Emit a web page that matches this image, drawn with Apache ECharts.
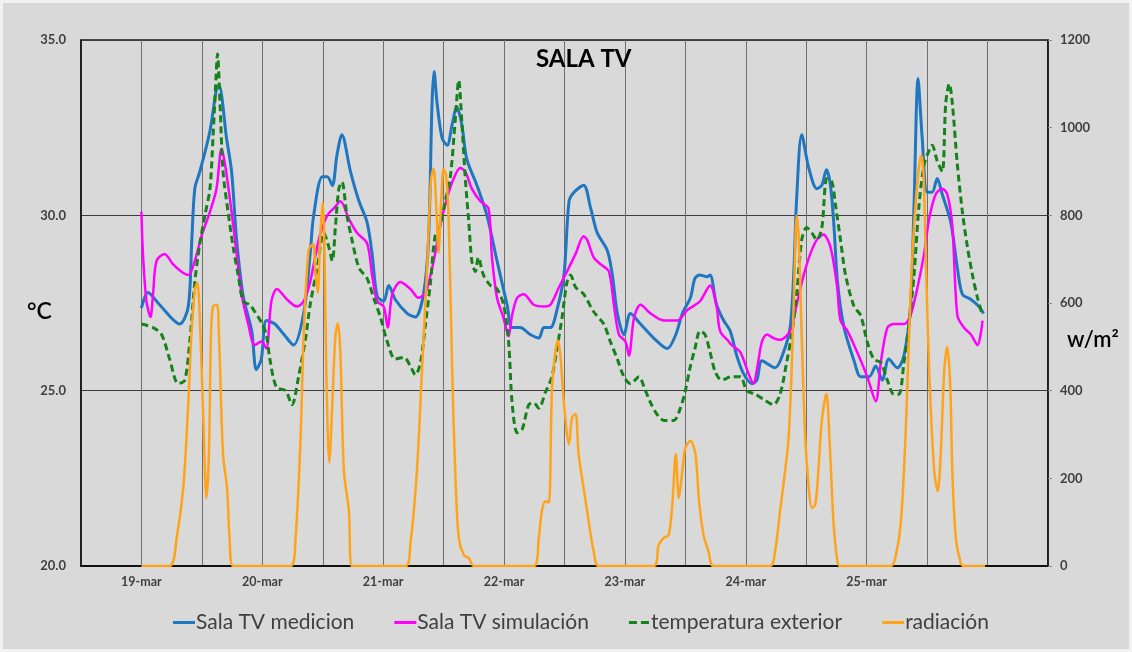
<!DOCTYPE html>
<html>
<head>
<meta charset="utf-8">
<script src="https://cdn.jsdelivr.net/npm/echarts@6/dist/echarts.min.js"></script>
<style>
  html, body { margin: 0; padding: 0; background: #f0f0f0; }
  #chart { width: 1132px; height: 652px; }
</style>
</head>
<body>
<div id="chart"></div>
<script>
// ---- data (hour since 19-mar 00:00, value) ----
const dayLabels = ['19-mar', '20-mar', '21-mar', '22-mar', '23-mar', '24-mar', '25-mar'];
const leftTicks = [20, 25, 30, 35];
const rightTicks = [0, 200, 400, 600, 800, 1000, 1200];

const medicion = [[0,27.36],[1.3,27.8],[3.6,27.45],[7.6,26.9],[9.3,27.4],[10,29.3],[10.6,30.76],[11.6,31.25],[13.6,32.4],[14.9,33.6],[15.4,33.7],[16.9,32.2],[17.9,31.25],[18.9,29.3],[20.2,27.7],[21.9,26.7],[22.8,25.6],[23.8,25.9],[24.8,27.0],[26.5,26.9],[28.3,26.6],[30.2,26.3],[32.2,27.2],[33.5,28.9],[34.2,30.0],[35.9,31.1],[36.9,31.1],[37.9,30.85],[38.8,31.7],[39.8,32.3],[41.5,31.25],[43.2,30.4],[44.8,29.8],[45.8,28.9],[46.8,27.7],[48.1,27.55],[49.1,28.0],[50.4,27.6],[52.8,27.2],[54.4,27.1],[56,27.75],[57,29.3],[57.7,33.2],[58.1,34.1],[58.7,33.2],[59.7,32.2],[60.7,32.0],[61.7,32.6],[62.6,33.1],[63.6,32.6],[64.6,31.6],[66.6,30.86],[68.6,30.0],[70.6,28.7],[72.6,27.45],[73.6,26.8],[75.2,26.8],[77.2,26.6],[78.9,26.5],[79.9,26.8],[81.2,26.8],[82.5,27.3],[83.9,28.3],[84.9,30.4],[85.9,30.66],[87.8,30.86],[89.2,30.2],[90.5,29.5],[92.5,29.0],[93.5,28.3],[94.5,27.2],[95.8,26.6],[97.1,27.2],[99.1,26.9],[101.7,26.5],[104.4,26.2],[106.1,26.6],[107.4,27.2],[109,27.65],[109.9,28.2],[110.9,28.3],[112.3,28.25],[112.9,28.3],[114.2,27.45],[115.6,27.0],[116.9,26.7],[118.2,26.0],[119.5,25.5],[121.2,25.2],[122.2,25.3],[123.2,25.85],[125.8,25.65],[127.5,26.1],[128.8,26.8],[129.5,28.3],[130.1,30.5],[131.1,32.3],[132.5,31.35],[134.1,30.76],[135.1,30.86],[136,31.3],[136.8,30.86],[137.5,29.7],[138.2,28.1],[139.5,26.8],[141.5,25.85],[142.8,25.4],[144.5,25.4],[145.8,25.7],[147.1,25.3],[148.4,25.9],[150.1,25.65],[151.4,26.0],[152.7,27.4],[153.4,30.3],[154.2,33.9],[155,32.25],[156,30.66],[157,30.66],[158,31.05],[159,30.6],[160.7,29.8],[162,28.5],[163,27.75],[164.7,27.6],[166.3,27.4],[167.2,27.2]];

const simulacion = [[0,30.1],[0.3,28.9],[1,27.55],[1.8,27.1],[2.3,27.75],[3,28.7],[4.6,28.9],[6.3,28.6],[7.9,28.4],[9.3,28.3],[10.6,28.7],[11.9,29.4],[13.6,30.1],[14.9,30.76],[15.9,31.9],[16.6,31.45],[17.9,30.1],[18.9,28.9],[19.9,27.75],[21.2,26.9],[22.5,26.3],[23.8,26.4],[24.8,26.2],[25.8,27.55],[26.9,27.9],[28.9,27.6],[30.9,27.4],[32.2,27.55],[33.5,28.1],[35.2,29.3],[36.9,30.0],[38.2,30.2],[39.5,30.4],[41.2,29.9],[42.8,29.5],[44.8,29.2],[45.8,28.3],[46.8,27.55],[48.1,27.4],[48.9,26.8],[49.8,27.75],[51.4,28.1],[53.4,27.9],[55,27.65],[56.4,27.8],[57.4,28.3],[58.3,28.9],[59.3,29.7],[60.7,30.5],[62,31.05],[63.3,31.35],[64.3,31.25],[65.6,30.76],[67.3,30.4],[68.9,30.2],[69.6,28.8],[70.6,27.65],[71.9,27.07],[72.9,26.55],[73.6,27.15],[74.6,27.65],[75.9,27.75],[77.9,27.45],[79.9,27.4],[81.2,27.45],[82.9,27.95],[84.5,28.4],[86.2,28.9],[87.8,29.4],[88.5,29.3],[89.8,28.8],[91.2,28.6],[92.8,28.4],[93.8,27.45],[94.8,26.6],[96.1,26.4],[96.8,26.0],[97.8,27.07],[99.1,27.45],[101.1,27.2],[103.7,27.0],[106.4,27.0],[108.4,27.3],[110.9,27.55],[112.9,28.0],[114.2,27.4],[114.9,26.7],[116.6,26.4],[117.2,26.3],[118.9,26.1],[120.5,25.5],[121.5,25.2],[122.2,25.6],[123.2,26.4],[124.2,26.6],[125.5,26.5],[126.8,26.45],[128.8,26.7],[130.1,27.45],[131.5,28.3],[132.8,28.9],[134.1,29.3],[135.4,29.45],[136.8,29.1],[138.1,28.0],[138.8,27.0],[140.2,26.7],[142.1,26.1],[144.1,25.4],[145.8,24.7],[146.8,25.8],[148.1,26.8],[149.4,26.9],[151.4,26.9],[152.7,27.15],[154.1,27.95],[155.4,28.9],[156.4,29.9],[157.7,30.6],[159,30.76],[160,30.6],[161,29.7],[162,27.15],[163.3,26.8],[164.7,26.6],[166,26.3],[167,27.0]];

const exterior = [[0,26.9],[2.3,26.8],[4,26.6],[5.6,25.9],[7.3,25.2],[8.6,25.3],[9.6,26.4],[10.6,28.1],[11.6,29.2],[12.6,30.0],[13.6,30.76],[14.2,32.2],[14.8,33.9],[15.1,34.6],[15.6,33.2],[16.2,31.25],[17.2,30.1],[18.2,29.1],[19.2,28.3],[20.2,27.55],[21.5,27.45],[22.5,27.25],[23.8,26.95],[24.8,26.6],[25.5,25.9],[26.8,25.1],[28.6,25.0],[29.9,24.6],[31.2,25.4],[32.6,26.5],[33.5,27.45],[34.9,28.5],[36.2,29.5],[37.2,29.1],[37.9,28.7],[38.5,29.65],[39.2,30.76],[39.8,30.95],[40.8,30.0],[41.8,29.3],[43.2,28.5],[44.8,28.2],[46.1,27.65],[47.5,27.07],[48.8,26.4],[50.4,25.9],[52.1,25.95],[53.4,25.7],[54.4,25.45],[55.4,25.8],[56.4,26.9],[57.4,28.1],[58.3,29.4],[59.3,29.7],[60.3,30.4],[61.3,31.05],[62.3,32.7],[63,33.85],[63.6,32.7],[64.3,31.05],[65,29.8],[65.6,28.7],[66.3,28.4],[66.9,28.8],[67.9,28.3],[69.3,28.0],[70.6,27.9],[71.9,27.45],[72.9,26.4],[73.6,24.65],[74.6,23.8],[75.6,23.9],[76.9,24.6],[77.9,24.65],[78.9,24.5],[80.2,24.95],[81.5,25.4],[82.5,26.2],[83.5,27.07],[84.5,28.1],[85.2,28.3],[86.2,27.95],[87.8,27.75],[89.8,27.25],[91.8,26.9],[93.1,26.4],[94.5,25.9],[95.8,25.4],[97.1,25.2],[98.8,25.4],[99.8,25.1],[101.1,24.65],[102.5,24.3],[103.8,24.15],[105.7,24.15],[107,24.5],[108,25.0],[109,25.7],[109.9,26.2],[110.9,26.7],[111.9,26.6],[112.9,26.1],[113.9,25.55],[115.2,25.3],[117.2,25.4],[118.9,25.4],[120.2,25.0],[121.9,24.9],[123.5,24.75],[125.5,24.6],[126.8,24.9],[128.1,25.8],[129.1,26.6],[130.1,27.75],[131.1,29.3],[132.1,29.65],[133.1,29.5],[134.1,29.3],[135.1,29.65],[136.1,31.05],[137.1,30.95],[137.8,30.3],[138.8,29.3],[139.8,28.3],[141.5,27.4],[142.8,27.15],[144.1,26.4],[145.4,25.9],[146.8,25.8],[148.1,25.3],[149.4,24.9],[150.4,24.9],[151.4,25.8],[152.4,26.9],[153.4,28.3],[154.4,30.3],[155.4,31.45],[156.4,31.85],[157,32.0],[158,31.55],[159,31.25],[159.7,33.2],[160.4,33.75],[161,33.2],[162,31.45],[163,30.1],[164,29.1],[165,28.3],[166,27.65],[167,27.15]];

const radiacion = [[0,0],[5.6,0],[7,64],[8.3,178],[9.3,370],[9.9,523],[10.6,630],[11.1,646],[11.6,561],[12.3,332],[12.9,155],[13.4,255],[13.8,523],[14.2,592],[15,596],[15.4,523],[16.2,255],[17,178],[17.5,64],[18.2,0],[29.6,0],[30.6,64],[31.6,293],[32.2,523],[33.2,722],[34.1,734],[34.5,676],[35,623],[35.5,753],[36,830],[36.3,753],[36.7,447],[37.3,236],[37.9,370],[38.5,523],[39,554],[39.5,485],[40.2,217],[41.2,125],[41.8,0],[52.4,0],[53.4,50],[54.7,217],[55.7,447],[56.7,676],[57.5,883],[58,906],[58.5,830],[59,715],[59.5,830],[60,906],[60.5,891],[61,791],[61.7,447],[62.3,217],[63,64],[64,25],[65,18],[66,0],[77.9,0],[78.9,64],[79.5,125],[80.2,148],[80.9,145],[81.5,400],[82.2,490],[82.7,515],[83.2,477],[83.9,370],[84.9,278],[85.5,339],[86.2,347],[86.8,255],[87.8,178],[88.8,102],[89.8,33],[90.8,0],[101.7,0],[102.7,48],[103.7,64],[104.7,71],[105.4,140],[106.1,255],[106.7,155],[107.4,217],[108,270],[109,286],[110,255],[110.7,150],[111.6,71],[112.6,33],[113.6,0],[124.8,0],[125.8,33],[126.8,125],[127.8,217],[128.5,293],[129.1,447],[129.6,638],[130.1,799],[130.5,753],[131.1,523],[131.8,293],[132.5,178],[133.1,133],[133.8,140],[134.4,217],[135.1,332],[136,393],[136.6,293],[137.4,102],[138.1,18],[138.7,0],[148.8,0],[149.8,25],[150.8,102],[151.7,293],[152.4,523],[153.1,715],[154,868],[154.8,937],[155.3,891],[155.8,676],[156.4,447],[157.4,217],[158.1,171],[158.7,255],[159.4,447],[160,500],[160.6,408],[161,217],[161.7,64],[162.7,6],[163.3,0],[167.5,0]];

// ---- chart ----
const FONT = 'Lato, "Open Sans", sans-serif';
const chart = echarts.init(document.getElementById('chart'), null, { renderer: 'canvas' });

const SOLID = 'rect';
const DASHED = 'path://M0,0H8V3H0Z M12,0H20V3H12Z';

const option = {
  backgroundColor: '#d9d9d9',
  animation: false,
  textStyle: { fontFamily: FONT },
  title: {
    text: 'SALA TV',
    left: 531, top: 42,
    textStyle: { fontFamily: FONT, fontSize: 24, fontWeight: 'bold', color: '#000' }
  },
  grid: {
    left: 81, right: 84, top: 40, bottom: 86,
    show: true, borderColor: '#1a1a1a', borderWidth: 1.5, backgroundColor: 'transparent'
  },
  legend: {
    left: 168, top: 607,
    itemWidth: 22, itemHeight: 3, itemGap: 40,
    textStyle: { fontFamily: FONT, fontSize: 21, color: '#404040', padding: [0, 0, 0, -4] },
    data: [
      { name: 'Sala TV medicion', icon: SOLID },
      { name: 'Sala TV simulación', icon: SOLID },
      { name: 'temperatura exterior', icon: DASHED },
      { name: 'radiación', icon: SOLID }
    ]
  },
  xAxis: {
    type: 'value', min: -12, max: 180, interval: 12,
    axisLine: { show: true, onZero: false, lineStyle: { color: '#111', width: 2 } },
    axisTick: { show: false },
    splitLine: { show: true, lineStyle: { color: '#6e6e6e', width: 1 } },
    axisLabel: {
      margin: 9,
      fontFamily: FONT, fontSize: 12.5, fontWeight: 'bold', color: '#404040',
      formatter: v => (v >= 0 && v % 24 === 0 && v / 24 < dayLabels.length) ? dayLabels[v / 24] : ''
    }
  },
  yAxis: [
    {
      type: 'value', min: leftTicks[0], max: leftTicks[leftTicks.length - 1], interval: 5,
      axisLine: { show: true, onZero: false, lineStyle: { color: '#111', width: 1.5 } },
      axisTick: { show: false },
      splitLine: { show: true, lineStyle: { color: '#3c3c3c', width: 1 } },
      axisLabel: { margin: 15, fontFamily: FONT, fontSize: 13, fontWeight: 'bold', color: '#404040',
                   formatter: v => v.toFixed(1) }
    },
    {
      type: 'value', min: rightTicks[0], max: rightTicks[rightTicks.length - 1], interval: 200,
      position: 'right',
      axisLine: { show: true, onZero: false, lineStyle: { color: '#111', width: 1.5 } },
      axisTick: { show: true, length: 4, lineStyle: { color: '#888' } },
      splitLine: { show: false },
      axisLabel: { margin: 12, fontFamily: FONT, fontSize: 13, fontWeight: 'bold', color: '#404040',
                   formatter: v => String(v) }
    }
  ],
  graphic: [
    { type: 'text', left: 27, top: 300, style: { text: '°C', fontFamily: FONT, fontSize: 23, fontWeight: 600, fill: '#000' } },
    { type: 'text', left: 1067, top: 329, style: { text: 'w/m²', fontFamily: FONT, fontSize: 22, fontWeight: 600, fill: '#000' } },
    { type: 'rect', shape: { x: 0, y: 0, width: 1132, height: 652 }, style: { fill: 'none', stroke: '#f2f2f2', lineWidth: 6 }, silent: true }
  ],
  series: [
    {
      name: 'Sala TV medicion', type: 'line', yAxisIndex: 0, data: medicion,
      smooth: 0.3, showSymbol: false, symbol: 'none',
      lineStyle: { color: '#1f77c1', width: 3 }, itemStyle: { color: '#1f77c1' }, z: 2
    },
    {
      name: 'Sala TV simulación', type: 'line', yAxisIndex: 0, data: simulacion,
      smooth: 0.3, showSymbol: false, symbol: 'none',
      lineStyle: { color: '#ff00ff', width: 2.5 }, itemStyle: { color: '#ff00ff' }, z: 3
    },
    {
      name: 'temperatura exterior', type: 'line', yAxisIndex: 0, data: exterior,
      smooth: 0.3, showSymbol: false, symbol: 'none',
      lineStyle: { color: '#16821a', width: 3, type: [7, 4] }, itemStyle: { color: '#16821a' }, z: 4
    },
    {
      name: 'radiación', type: 'line', yAxisIndex: 1, data: radiacion,
      smooth: 0.3, showSymbol: false, symbol: 'none',
      lineStyle: { color: '#ffa31a', width: 2.5 }, itemStyle: { color: '#ffa31a' }, z: 5
    }
  ]
};
chart.setOption(option);
</script>
</body>
</html>
